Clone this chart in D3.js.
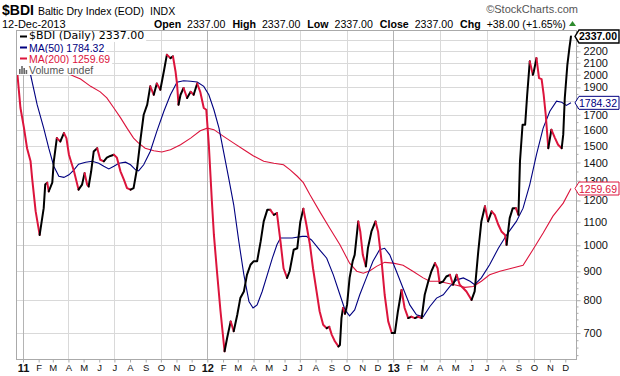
<!DOCTYPE html>
<html>
<head>
<meta charset="utf-8">
<script src="https://cdn.jsdelivr.net/npm/d3@7"></script>
<style>
  body { margin: 0; background: #fff; }
  svg { display: block; font-family: "Liberation Sans", Arial, sans-serif; }
</style>
</head>
<body>
<svg id="chart" width="620" height="376"></svg>
<script>
// ---- data (weekly-ish samples) ----
var priceDates = [
  "2010-12-17","2010-12-21","2010-12-27","2011-01-03","2011-01-09","2011-01-16","2011-01-19","2011-01-26",
  "2011-02-03","2011-02-11","2011-02-14","2011-02-18","2011-02-21","2011-02-28","2011-03-03","2011-03-09",
  "2011-03-16","2011-03-23","2011-03-28","2011-04-02","2011-04-12","2011-04-21","2011-04-28","2011-05-03",
  "2011-05-08","2011-05-11","2011-05-16","2011-05-21","2011-05-28","2011-06-03","2011-06-10","2011-06-16",
  "2011-06-23","2011-06-30","2011-07-06","2011-07-13","2011-07-20","2011-07-26","2011-08-02","2011-08-08",
  "2011-08-15","2011-08-22","2011-08-28","2011-09-04","2011-09-10","2011-09-17","2011-09-23","2011-09-30",
  "2011-10-07","2011-10-13","2011-10-20","2011-10-25","2011-10-30","2011-11-02","2011-11-05","2011-11-09",
  "2011-11-15","2011-11-22","2011-11-29","2011-12-05","2011-12-12","2011-12-18","2011-12-25","2011-12-30",
  "2012-01-04","2012-01-10","2012-01-14","2012-01-20","2012-01-27","2012-02-04","2012-02-09","2012-02-16",
  "2012-02-22","2012-02-29","2012-03-06","2012-03-13","2012-03-19","2012-03-26","2012-04-01","2012-04-08",
  "2012-04-15","2012-04-21","2012-04-28","2012-05-04","2012-05-11","2012-05-17","2012-05-24","2012-05-30",
  "2012-06-06","2012-06-11","2012-06-19","2012-06-26","2012-07-02","2012-07-08","2012-07-14","2012-07-21",
  "2012-07-27","2012-08-03","2012-08-09","2012-08-16","2012-08-23","2012-08-28","2012-09-02","2012-09-08",
  "2012-09-15","2012-09-18","2012-09-21","2012-09-24","2012-09-28","2012-10-02","2012-10-07","2012-10-13",
  "2012-10-17","2012-10-24","2012-10-28","2012-11-02","2012-11-08","2012-11-12","2012-11-19","2012-11-27",
  "2012-12-02","2012-12-09","2012-12-15","2012-12-22","2012-12-29","2013-01-04","2013-01-10","2013-01-17",
  "2013-01-23","2013-01-30","2013-02-05","2013-02-12","2013-02-18","2013-02-25","2013-03-03","2013-03-10",
  "2013-03-16","2013-03-23","2013-03-28","2013-04-01","2013-04-08","2013-04-14","2013-04-21","2013-04-27",
  "2013-05-04","2013-05-10","2013-05-17","2013-05-23","2013-06-02","2013-06-08","2013-06-15","2013-06-21",
  "2013-06-28","2013-07-04","2013-07-11","2013-07-17","2013-07-24","2013-07-30","2013-08-06","2013-08-09",
  "2013-08-15","2013-08-21","2013-08-27","2013-09-01","2013-09-04","2013-09-09","2013-09-14","2013-09-18",
  "2013-09-23","2013-09-29","2013-10-01","2013-10-06","2013-10-11","2013-10-16","2013-10-20","2013-10-24",
  "2013-10-29","2013-11-04","2013-11-11","2013-11-17","2013-11-24","2013-11-27","2013-11-30","2013-12-05",
  "2013-12-09","2013-12-11","2013-12-12"];
var priceValues = [
  2050,2000,1747,1610,1484,1407,1315,1149,
  1043,1163,1280,1290,1245,1290,1407,1546,
  1525,1578,1546,1445,1351,1254,1280,1341,
  1280,1270,1351,1464,1484,1416,1407,1428,
  1438,1445,1428,1351,1305,1262,1254,1262,
  1369,1546,1700,1771,1908,1844,1930,1882,
  2029,2170,2140,2155,2029,1930,1771,1844,
  1895,1820,1866,1844,1930,1866,1747,1735,
  1505,1196,1043,900,765,650,686,734,
  705,754,807,829,887,924,937,937,
  1016,1102,1155,1155,1132,1140,1016,911,
  876,900,982,988,1100,1160,1087,1002,
  911,829,765,724,714,718,695,677,
  663,667,744,775,757,785,876,937,
  962,1102,1058,962,918,988,1058,1102,
  1058,937,818,734,700,700,765,834,
  775,744,748,744,748,744,818,864,
  900,930,911,858,864,881,887,852,
  887,852,840,829,801,829,976,1102,
  1172,1102,1148,1132,1087,1058,1043,1002,
  1117,1163,1163,1132,1407,1632,1632,1844,
  2112,2000,2029,2140,1973,1965,1844,1700,
  1484,1600,1546,1505,1484,1568,1820,2083,
  2230,2299,2337];

var ma50Dates = [
  "2010-12-17","2011-01-03","2011-01-16","2011-01-29","2011-02-11","2011-02-21","2011-03-03","2011-03-13",
  "2011-03-23","2011-04-02","2011-04-12","2011-04-21","2011-05-05","2011-05-18","2011-05-31","2011-06-10",
  "2011-06-20","2011-06-30","2011-07-10","2011-07-23","2011-08-02","2011-08-12","2011-08-18","2011-08-28",
  "2011-09-10","2011-09-23","2011-10-07","2011-10-20","2011-11-02","2011-11-15","2011-11-29","2011-12-12",
  "2011-12-25","2012-01-04","2012-01-14","2012-01-24","2012-02-02","2012-02-12","2012-02-22","2012-03-03",
  "2012-03-13","2012-03-23","2012-03-31","2012-04-08","2012-04-18","2012-04-28","2012-05-08","2012-05-17",
  "2012-05-24","2012-06-03","2012-06-16","2012-07-06","2012-07-14","2012-07-24","2012-08-09","2012-08-23",
  "2012-09-05","2012-09-18","2012-09-28","2012-10-07","2012-10-17","2012-10-27","2012-11-09","2012-11-22",
  "2012-12-05","2012-12-15","2012-12-25","2013-01-07","2013-01-20","2013-02-02","2013-02-15","2013-02-28",
  "2013-03-13","2013-03-26","2013-04-08","2013-04-21","2013-05-04","2013-05-17","2013-05-30","2013-06-08",
  "2013-06-21","2013-07-07","2013-07-24","2013-08-09","2013-08-28","2013-09-10","2013-09-23","2013-10-06",
  "2013-10-19","2013-11-01","2013-11-14","2013-11-24","2013-12-03","2013-12-12"];
var ma50Values = [
  2300,2150,2000,1771,1610,1484,1379,1324,
  1318,1332,1359,1391,1402,1407,1396,1379,
  1364,1379,1396,1402,1387,1359,1353,1387,
  1464,1589,1724,1844,1940,1952,1948,1942,
  1908,1844,1735,1610,1464,1315,1179,1016,
  887,796,775,785,829,887,949,1002,
  1030,1030,1030,1037,1037,1022,982,949,
  887,818,769,751,769,818,876,937,
  982,988,962,900,840,785,754,748,
  780,807,818,846,869,876,864,852,
  876,924,988,1043,1102,1163,1280,1445,
  1610,1724,1796,1788,1766,1784.32];

var ma200Dates = [
  "2010-12-17","2011-02-13","2011-04-12","2011-04-25","2011-05-15","2011-06-03","2011-06-16","2011-06-30",
  "2011-07-13","2011-07-26","2011-08-08","2011-08-18","2011-08-31","2011-09-17","2011-10-03","2011-10-20",
  "2011-11-09","2011-11-29","2011-12-18","2012-01-01","2012-01-14","2012-02-02","2012-02-22","2012-03-13",
  "2012-04-01","2012-04-21","2012-05-11","2012-05-30","2012-06-12","2012-06-26","2012-07-08","2012-07-21",
  "2012-08-09","2012-08-29","2012-09-18","2012-10-07","2012-10-21","2012-11-03","2012-11-16","2012-11-29",
  "2012-12-15","2013-01-01","2013-01-20","2013-02-08","2013-02-28","2013-03-13","2013-03-29","2013-04-14",
  "2013-05-04","2013-05-20","2013-06-05","2013-06-21","2013-07-07","2013-07-27","2013-08-15","2013-09-10",
  "2013-09-29","2013-10-19","2013-11-07","2013-11-27","2013-12-12"];
var ma200Values = [
  2250,2100,1987,1965,1908,1866,1820,1747,
  1680,1610,1546,1515,1484,1469,1461,1475,
  1505,1546,1593,1610,1600,1557,1515,1475,
  1438,1407,1396,1387,1359,1324,1290,1228,
  1148,1072,1002,930,900,893,902,918,
  933,930,922,900,876,864,864,858,
  850,843,846,864,887,900,909,922,
  982,1051,1126,1187,1259.69];

var yTickValues = [700,800,900,1000,1100,1200,1300,1400,1500,1600,1700,1800,1900,2000,2100,2200,2300];
var monthLetters = ["J","F","M","A","M","J","J","A","S","O","N","D"];
var headerStats = [["Open","2337.00"],["High","2337.00"],["Low","2337.00"],["Close","2337.00"],["Chg","+38.00 (+1.65%)"]];
var legendRows = [
  {label: "$BDI (Daily) 2337.00", color: "#000000"},
  {label: "MA(50) 1784.32", color: "#000080"},
  {label: "MA(200) 1259.69", color: "#dc143c"},
  {label: "Volume undef", color: "#555555"}
];

var upColor = "#000000";
var downColor = "#dc143c";
var ma50Color = "#000080";
var ma200Color = "#dc143c";

var svg = d3.select('#chart');
var plot = {left: 16, right: 576, top: 30, bottom: 359};
var parseDate = d3.timeParse("%Y-%m-%d");

function zip(dates, values) {
  return dates.map(function(d, i) { return {date: parseDate(d), value: values[i]}; });
}
var pricePoints = zip(priceDates, priceValues);
var ma50Points = zip(ma50Dates, ma50Values);
var ma200Points = zip(ma200Dates, ma200Values);

// trading-day axis is close to linear within each year
var xScale = d3.scaleTime()
  .domain([new Date(2011, 0, 1), new Date(2012, 0, 1), new Date(2013, 0, 1), new Date(2013, 11, 1)])
  .range([23, 207.3, 393.3, 565.3]);
var yScale = d3.scaleLog().domain([630, 2399]).range([plot.bottom, plot.top]);

svg.append('rect').attr('width', 620).attr('height', 376).attr('fill', '#fff');

// ---- header ----
var header = svg.append('g');
var ticker = header.append('text').attr('x', 2).attr('y', 15)
  .style('font-size', '14px').style('font-weight', 'bold').text('$BDI');
var titleX = 2 + ticker.node().getComputedTextLength() + 4;
var title = header.append('text').attr('x', titleX).attr('y', 15)
  .style('font-size', '10.5px').text('Baltic Dry Index (EOD)');
header.append('text').attr('x', titleX + title.node().getComputedTextLength() + 6).attr('y', 15)
  .style('font-size', '10.5px').text('INDX');
header.append('text').attr('x', 578).attr('y', 13).attr('text-anchor', 'end')
  .style('font-size', '11px').attr('fill', '#555').text('\u00A9StockCharts.com');
header.append('text').attr('x', 2).attr('y', 28)
  .style('font-size', '11px').text('12-Dec-2013');

// stats line is stretched to run from x=154 to x=566 like the reference
var stats = header.append('text').attr('x', 154).attr('y', 28);
headerStats.forEach(function(s, i) {
  stats.append('tspan').attr('dx', i > 0 ? 7 : 0).style('font-weight', 'bold').text(s[0]);
  stats.append('tspan').attr('dx', 3).text(' ' + s[1]);
});
stats.style('font-size', '11px');
var statsW = stats.node().getBBox().width;
stats.style('font-size', (11 * (412 - 31) / (statsW - 31)) + 'px');
header.append('path')
  .attr('d', 'M569,26 L572.5,21 L576,26 Z')
  .attr('fill', '#2e8b2e');

// ---- grid ----
var grid = svg.append('g');
grid.selectAll('line.h-grid')
  .data(yTickValues)
  .enter()
  .append('line')
  .classed('h-grid', true)
  .attr('x1', plot.left).attr('x2', plot.right)
  .attr('y1', function(d) { return Math.round(yScale(d)) + 0.5; })
  .attr('y2', function(d) { return Math.round(yScale(d)) + 0.5; })
  .attr('stroke', '#d9d9d9');

var monthStarts = d3.timeMonth.range(new Date(2011, 0, 1), new Date(2014, 0, 1));
var quarterStarts = monthStarts.filter(function(d) { return d.getMonth() % 3 == 0; });
grid.selectAll('line.v-grid')
  .data(quarterStarts)
  .enter()
  .append('line')
  .classed('v-grid', true)
  .attr('x1', function(d) { return Math.round(xScale(d)) + 0.5; })
  .attr('x2', function(d) { return Math.round(xScale(d)) + 0.5; })
  .attr('y1', plot.top).attr('y2', plot.bottom)
  .attr('stroke', function(d) { return d.getMonth() == 0 ? '#b4b4b4' : '#d9d9d9'; });

// ---- series ----
svg.append('clipPath').attr('id', 'plot-clip')
  .append('rect')
  .attr('x', plot.left).attr('y', plot.top)
  .attr('width', plot.right - plot.left).attr('height', plot.bottom - plot.top);

var series = svg.append('g').attr('clip-path', 'url(#plot-clip)');

var lineGen = d3.line()
  .x(function(d) { return xScale(d.date); })
  .y(function(d) { return yScale(d.value); });

series.append('path').datum(ma200Points)
  .attr('d', lineGen).attr('fill', 'none')
  .attr('stroke', ma200Color).attr('stroke-width', 1.1);
series.append('path').datum(ma50Points)
  .attr('d', lineGen).attr('fill', 'none')
  .attr('stroke', ma50Color).attr('stroke-width', 1.1);

// price line: black while rising, red while falling
var runs = [];
d3.pairs(pricePoints).forEach(function(p) {
  var color = p[1].value >= p[0].value ? upColor : downColor;
  var last = runs[runs.length - 1];
  if (last && last.color == color) {
    last.points.push(p[1]);
  } else {
    runs.push({color: color, points: [p[0], p[1]]});
  }
});
series.selectAll('path.price')
  .data(runs)
  .enter()
  .append('path')
  .classed('price', true)
  .attr('d', function(d) { return lineGen(d.points); })
  .attr('fill', 'none')
  .attr('stroke', function(d) { return d.color; })
  .attr('stroke-width', 2)
  .attr('stroke-linejoin', 'round')
  .attr('stroke-linecap', 'round');

// ---- frame ----
svg.append('rect')
  .attr('x', plot.left + 0.5).attr('y', plot.top + 0.5)
  .attr('width', plot.right - plot.left).attr('height', plot.bottom - plot.top)
  .attr('fill', 'none').attr('stroke', '#aaaaaa');

// ---- last-value tags (defined early so covered axis labels can be skipped) ----
var tags = [
  {value: priceValues[priceValues.length - 1], color: '#000', bold: true},
  {value: ma50Values[ma50Values.length - 1], color: ma50Color, bold: false},
  {value: ma200Values[ma200Values.length - 1], color: ma200Color, bold: false}
];
function hiddenByTag(v) {
  return tags.some(function(t) { return Math.abs(yScale(t.value) - yScale(v)) < 5; });
}

// ---- axes ----
var minorTicks = d3.range(640, 1000, 20).concat(d3.range(1050, 2400, 50))
  .filter(function(d) { return d % 100 != 0; });

var yMinor = svg.append('g')
  .attr('transform', 'translate(' + (plot.right + 0.5) + ',0)')
  .call(d3.axisRight(yScale).tickValues(minorTicks).tickSize(2).tickFormat(''));
var yAxis = svg.append('g')
  .attr('transform', 'translate(' + (plot.right + 0.5) + ',0)')
  .call(d3.axisRight(yScale).tickValues(yTickValues).tickSize(4).tickPadding(3)
    .tickFormat(function(d) { return hiddenByTag(d) ? '' : d3.format('d')(d); }));
[yMinor, yAxis].forEach(function(g) {
  g.select('.domain').remove();
  g.selectAll('line').attr('stroke', '#aaaaaa');
});
yAxis.selectAll('text')
  .style('font-size', '11px').style('font-family', '"Liberation Sans", Arial, sans-serif')
  .attr('fill', '#111');

var xAxis = svg.append('g')
  .attr('transform', 'translate(0,' + (plot.bottom + 0.5) + ')')
  .call(d3.axisBottom(xScale).tickValues(monthStarts).tickSize(3).tickPadding(2)
    .tickFormat(function(d) {
      return d.getMonth() == 0 ? d3.timeFormat('%y')(d) : monthLetters[d.getMonth()];
    }));
xAxis.select('.domain').remove();
xAxis.selectAll('line').attr('stroke', '#aaaaaa');
xAxis.selectAll('text')
  .style('font-family', '"Liberation Sans", Arial, sans-serif')
  .style('font-size', function(d) { return d.getMonth() == 0 ? '11px' : '9.5px'; })
  .style('font-weight', function(d) { return d.getMonth() == 0 ? 'bold' : 'normal'; })
  .attr('fill', '#111');

// ---- legend (each row on its own white strip) ----
var legend = svg.append('g');
legendRows.forEach(function(row, i) {
  var top = 31 + i * 11;
  var g = legend.append('g');
  var bg = g.append('rect').attr('x', 17).attr('y', top).attr('height', 11).attr('fill', '#fff');
  var txt = g.append('text')
    .attr('x', 29)
    .attr('y', i == 0 ? top + 8 : top + 9.5)
    .attr('fill', row.color)
    .style('font-size', i == 0 ? '11px' : '10.5px')
    .style('font-family', i == 0 ? '"DejaVu Sans", Verdana, sans-serif' : '"Liberation Sans", Arial, sans-serif')
    .text(row.label);
  if (i < 3) {
    g.append('line').attr('x1', 20).attr('x2', 27)
      .attr('y1', top + 5.5).attr('y2', top + 5.5)
      .attr('stroke', row.color).attr('stroke-width', 2);
  } else {
    // tiny volume bar icon
    g.selectAll('rect.vbar')
      .data([5, 8, 6, 4])
      .enter()
      .append('rect')
      .classed('vbar', true)
      .attr('x', function(d, j) { return 19 + j * 2.2; })
      .attr('y', function(d) { return top + 10 - d; })
      .attr('width', 1.6)
      .attr('height', function(d) { return d; })
      .attr('fill', '#666');
  }
  bg.attr('width', 29 - 17 + txt.node().getComputedTextLength() + 2);
});

var tagG = svg.append('g');
tags.forEach(function(t) {
  var y = yScale(t.value);
  tagG.append('path')
    .attr('d', 'M' + (plot.right - 1) + ',' + y + ' L' + (plot.right + 3) + ',' + (y - 6.5) +
      ' L619,' + (y - 6.5) + ' L619,' + (y + 6.5) + ' L' + (plot.right + 3) + ',' + (y + 6.5) + ' Z')
    .attr('fill', '#fff')
    .attr('stroke', t.color)
    .attr('stroke-width', t.bold ? 1.4 : 1);
  tagG.append('text')
    .attr('x', 598).attr('y', y + 4)
    .attr('text-anchor', 'middle')
    .attr('fill', t.color)
    .style('font-size', '10.5px')
    .style('font-weight', t.bold ? 'bold' : 'normal')
    .text(d3.format('.2f')(t.value));
});
</script>
</body>
</html>
